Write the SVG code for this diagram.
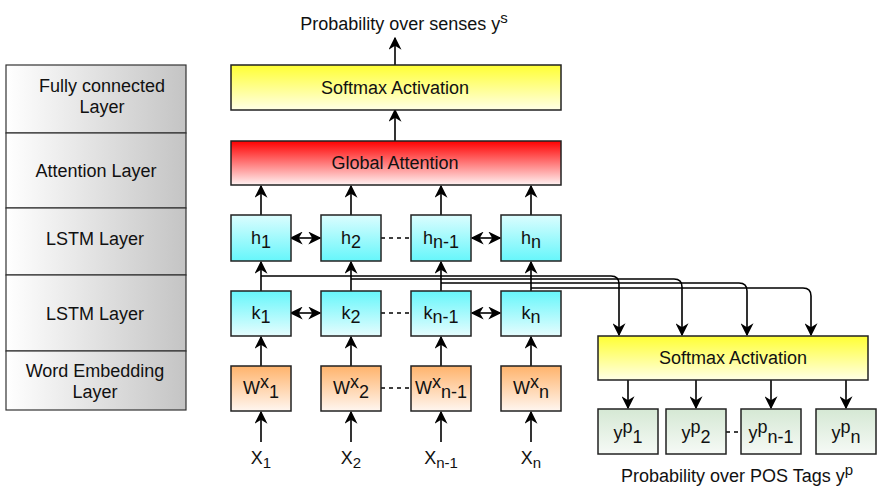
<svg xmlns="http://www.w3.org/2000/svg" width="882" height="492" viewBox="0 0 882 492">
<defs>
  <linearGradient id="gLeft" x1="0" y1="0" x2="1" y2="0">
    <stop offset="0" stop-color="#ffffff"/><stop offset="1" stop-color="#c4c4c4"/>
  </linearGradient>
  <linearGradient id="gYellow" x1="0" y1="0" x2="0" y2="1">
    <stop offset="0" stop-color="#ffff33"/><stop offset="1" stop-color="#ffffe6"/>
  </linearGradient>
  <linearGradient id="gRed" x1="0" y1="0" x2="0" y2="1">
    <stop offset="0" stop-color="#ff0000"/><stop offset="1" stop-color="#fff2f2"/>
  </linearGradient>
  <linearGradient id="gCyanUp" x1="0" y1="0" x2="0" y2="1">
    <stop offset="0" stop-color="#dcfdfe"/><stop offset="1" stop-color="#66f6fb"/>
  </linearGradient>
  <linearGradient id="gCyanDown" x1="0" y1="0" x2="0" y2="1">
    <stop offset="0" stop-color="#66f6fb"/><stop offset="1" stop-color="#e6fdfe"/>
  </linearGradient>
  <linearGradient id="gOrange" x1="0" y1="0" x2="0" y2="1">
    <stop offset="0" stop-color="#ffb36b"/><stop offset="1" stop-color="#fff6f0"/>
  </linearGradient>
  <linearGradient id="gGreen" x1="0" y1="0" x2="0" y2="1">
    <stop offset="0" stop-color="#d5e8d4"/><stop offset="1" stop-color="#f6faf6"/>
  </linearGradient>
  <marker id="arr" viewBox="0 0 10 10" refX="9" refY="5" markerWidth="13" markerHeight="13" markerUnits="userSpaceOnUse" orient="auto-start-reverse">
    <path d="M0,0 L10,5 L0,10 L3,5 z" fill="#000"/>
  </marker>
  <style>
    text { font-family: "Liberation Sans", Arial, sans-serif; font-size: 18px; fill: #111; text-anchor: middle; }
    .box { stroke: #222; stroke-width: 1.5; }
    .lay { fill: url(#gLeft); stroke: #333; stroke-width: 1.2; }
    .c { fill: none; stroke: #000; stroke-width: 1.6; }
    .a { marker-end: url(#arr); }
    .b { marker-start: url(#arr); marker-end: url(#arr); }
    .d { stroke-dasharray: 4 4; }
    .sub { font-size: 15px; }
  </style>
</defs>

<g id="layers">
  <rect class="lay" x="6" y="65" width="180" height="68"/>
  <rect class="lay" x="6" y="133" width="180" height="75"/>
  <rect class="lay" x="6" y="208" width="180" height="67"/>
  <rect class="lay" x="6" y="275" width="180" height="76"/>
  <rect class="lay" x="6" y="351" width="180" height="59"/>
  <text x="102" y="92">Fully connected</text>
  <text x="102" y="113">Layer</text>
  <text x="96" y="177">Attention Layer</text>
  <text x="95" y="245">LSTM Layer</text>
  <text x="95" y="320">LSTM Layer</text>
  <text x="95" y="377">Word Embedding</text>
  <text x="95" y="398">Layer</text>
</g>

<g id="connectors">
  <line class="c a" x1="395" y1="65" x2="395" y2="38"/>
  <line class="c a" x1="395" y1="141" x2="395" y2="110"/>
  <line class="c a" x1="261" y1="215" x2="261" y2="186"/>
  <line class="c a" x1="351" y1="215" x2="351" y2="186"/>
  <line class="c a" x1="441" y1="215" x2="441" y2="186"/>
  <line class="c a" x1="531" y1="215" x2="531" y2="186"/>
  <line class="c a" x1="261" y1="291" x2="261" y2="262"/>
  <line class="c a" x1="351" y1="291" x2="351" y2="262"/>
  <line class="c a" x1="441" y1="291" x2="441" y2="262"/>
  <line class="c a" x1="531" y1="291" x2="531" y2="262"/>
  <line class="c a" x1="261" y1="366" x2="261" y2="337"/>
  <line class="c a" x1="351" y1="366" x2="351" y2="337"/>
  <line class="c a" x1="441" y1="366" x2="441" y2="337"/>
  <line class="c a" x1="531" y1="366" x2="531" y2="337"/>
  <line class="c a" x1="261" y1="442" x2="261" y2="412"/>
  <line class="c a" x1="351" y1="442" x2="351" y2="412"/>
  <line class="c a" x1="441" y1="442" x2="441" y2="412"/>
  <line class="c a" x1="531" y1="442" x2="531" y2="412"/>
  <line class="c b" x1="291" y1="238" x2="320" y2="238"/>
  <line class="c b" x1="472" y1="238" x2="500" y2="238"/>
  <line class="c b" x1="291" y1="313" x2="320" y2="313"/>
  <line class="c b" x1="472" y1="313" x2="500" y2="313"/>
  <line class="c d" x1="381" y1="238" x2="411" y2="238"/>
  <line class="c d" x1="381" y1="313" x2="411" y2="313"/>
  <line class="c d" x1="381" y1="388" x2="411" y2="388"/>
  <line class="c d" x1="726" y1="432" x2="741" y2="432"/>
  <path class="c a" d="M261,276 H611 Q619,276 619,284 V335"/>
  <path class="c a" d="M351,279 H674 Q682,279 682,287 V335"/>
  <path class="c a" d="M441,283 H739 Q747,283 747,291 V335"/>
  <path class="c a" d="M531,288 H803 Q811,288 811,296 V335"/>
  <line class="c a" x1="628" y1="380" x2="628" y2="408"/>
  <line class="c a" x1="696" y1="380" x2="696" y2="408"/>
  <line class="c a" x1="771" y1="380" x2="771" y2="408"/>
  <line class="c a" x1="846" y1="380" x2="846" y2="408"/>
</g>

<g id="softmax-senses">
  <rect class="box" x="231" y="65" width="330" height="45" fill="url(#gYellow)"/>
  <text x="395" y="94">Softmax Activation</text>
</g>
<g id="global-attention">
  <rect class="box" x="231" y="141" width="330" height="44" fill="url(#gRed)"/>
  <text x="395" y="169">Global Attention</text>
</g>

<g id="h1"><rect class="box" x="231" y="215" width="60" height="46" fill="url(#gCyanUp)"/><text x="261" y="244">h<tspan dy="4">1</tspan></text></g>
<g id="h2"><rect class="box" x="321" y="215" width="60" height="46" fill="url(#gCyanUp)"/><text x="351" y="244">h<tspan dy="4">2</tspan></text></g>
<g id="hn-1"><rect class="box" x="411" y="215" width="60" height="46" fill="url(#gCyanUp)"/><text x="441" y="244">h<tspan dy="4">n-1</tspan></text></g>
<g id="hn"><rect class="box" x="501" y="215" width="60" height="46" fill="url(#gCyanUp)"/><text x="531" y="244">h<tspan dy="4">n</tspan></text></g>

<g id="k1"><rect class="box" x="231" y="291" width="60" height="45" fill="url(#gCyanDown)"/><text x="261" y="319">k<tspan dy="4">1</tspan></text></g>
<g id="k2"><rect class="box" x="321" y="291" width="60" height="45" fill="url(#gCyanDown)"/><text x="351" y="319">k<tspan dy="4">2</tspan></text></g>
<g id="kn-1"><rect class="box" x="411" y="291" width="60" height="45" fill="url(#gCyanDown)"/><text x="441" y="319">k<tspan dy="4">n-1</tspan></text></g>
<g id="kn"><rect class="box" x="501" y="291" width="60" height="45" fill="url(#gCyanDown)"/><text x="531" y="319">k<tspan dy="4">n</tspan></text></g>

<g id="w1"><rect class="box" x="231" y="366" width="60" height="45" fill="url(#gOrange)"/><text x="261" y="394">W<tspan dy="-6">x</tspan><tspan dy="10">1</tspan></text></g>
<g id="w2"><rect class="box" x="321" y="366" width="60" height="45" fill="url(#gOrange)"/><text x="351" y="394">W<tspan dy="-6">x</tspan><tspan dy="10">2</tspan></text></g>
<g id="wn-1"><rect class="box" x="411" y="366" width="60" height="45" fill="url(#gOrange)"/><text x="441" y="394">W<tspan dy="-6">x</tspan><tspan dy="10">n-1</tspan></text></g>
<g id="wn"><rect class="box" x="501" y="366" width="60" height="45" fill="url(#gOrange)"/><text x="531" y="394">W<tspan dy="-6">x</tspan><tspan dy="10">n</tspan></text></g>

<g id="x1"><text x="261" y="464">X<tspan class="sub" dy="4">1</tspan></text></g>
<g id="x2"><text x="351" y="464">X<tspan class="sub" dy="4">2</tspan></text></g>
<g id="xn-1"><text x="441" y="464">X<tspan class="sub" dy="4">n-1</tspan></text></g>
<g id="xn"><text x="531" y="464">X<tspan class="sub" dy="4">n</tspan></text></g>

<g id="softmax-pos">
  <rect class="box" x="598" y="336" width="270" height="44" fill="url(#gYellow)"/>
  <text x="733" y="364">Softmax Activation</text>
</g>

<g id="yp1"><rect class="box" x="598" y="409" width="60" height="45" fill="url(#gGreen)"/><text x="628" y="439">y<tspan dy="-6">p</tspan><tspan dy="10">1</tspan></text></g>
<g id="yp2"><rect class="box" x="666" y="409" width="60" height="45" fill="url(#gGreen)"/><text x="696" y="439">y<tspan dy="-6">p</tspan><tspan dy="10">2</tspan></text></g>
<g id="ypn-1"><rect class="box" x="741" y="409" width="60" height="45" fill="url(#gGreen)"/><text x="771" y="439">y<tspan dy="-6">p</tspan><tspan dy="10">n-1</tspan></text></g>
<g id="ypn"><rect class="box" x="816" y="409" width="60" height="45" fill="url(#gGreen)"/><text x="846" y="439">y<tspan dy="-6">p</tspan><tspan dy="10">n</tspan></text></g>

<g id="labels">
  <text x="404" y="30">Probability over senses y<tspan class="sub" dy="-7">s</tspan></text>
  <text x="737" y="482">Probability over POS Tags y<tspan class="sub" dy="-7">p</tspan></text>
</g>
</svg>
